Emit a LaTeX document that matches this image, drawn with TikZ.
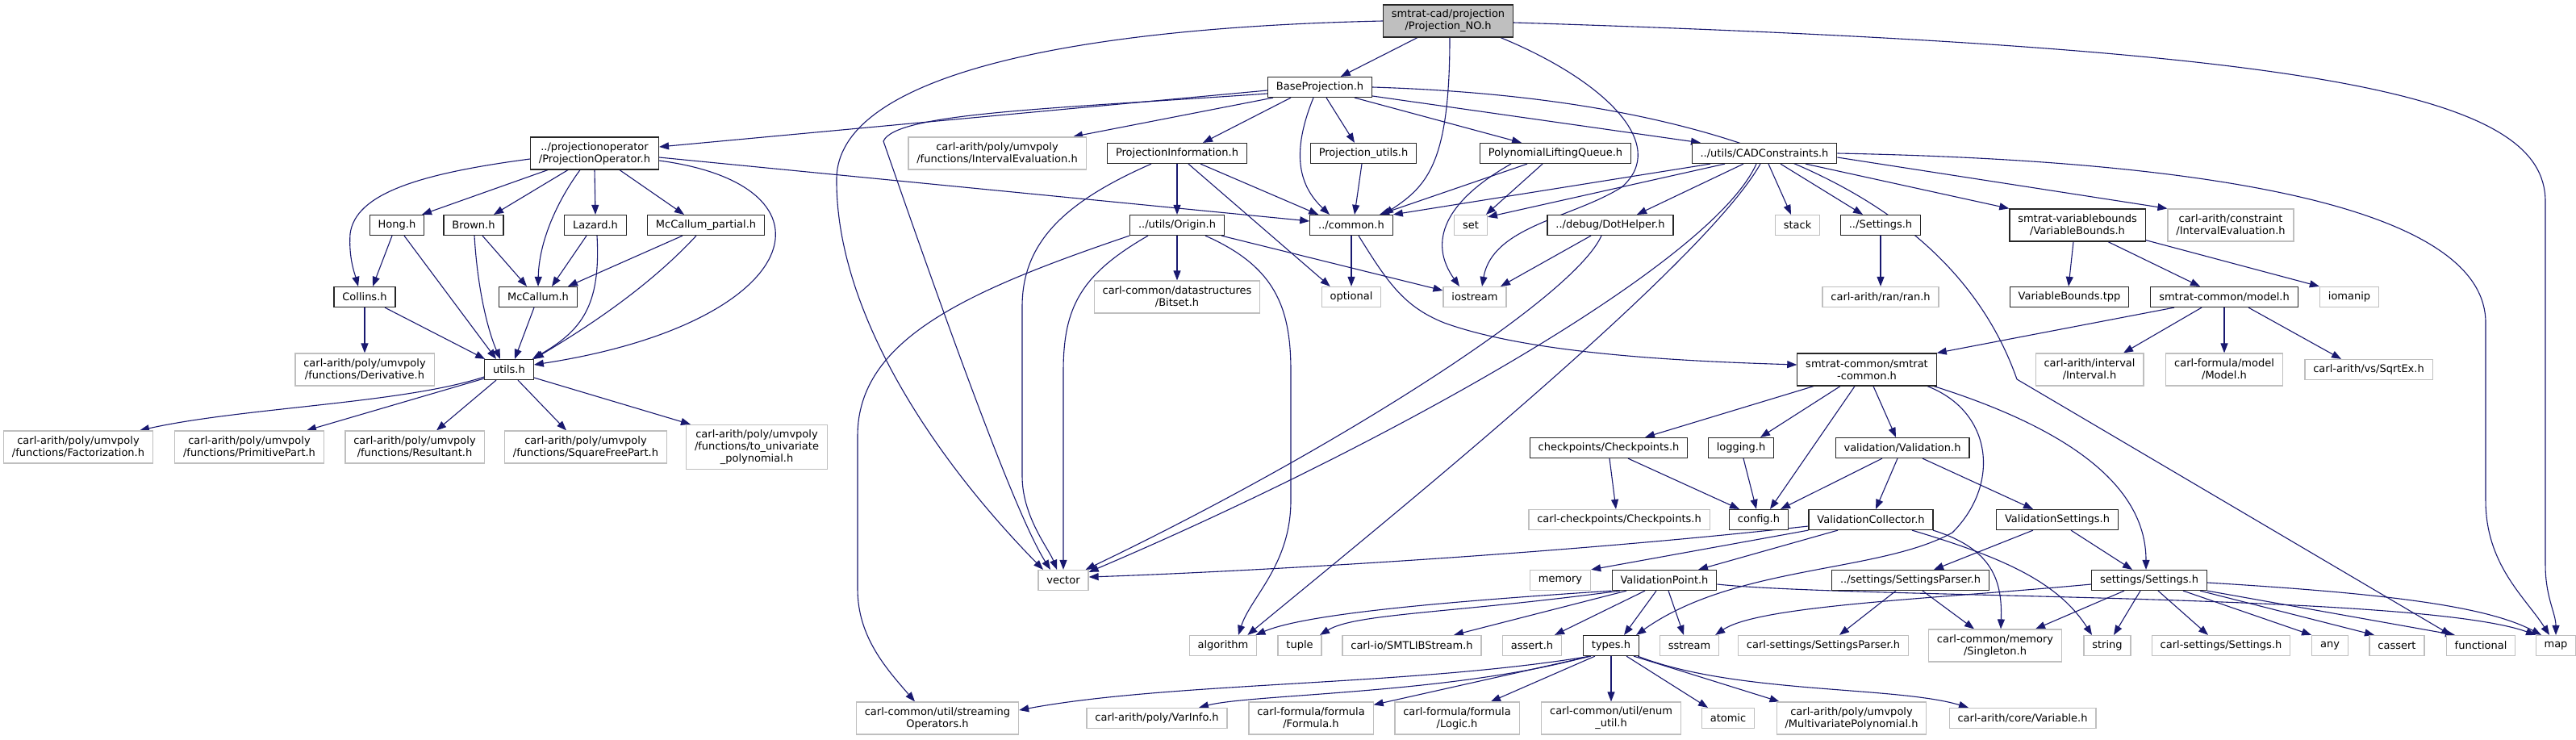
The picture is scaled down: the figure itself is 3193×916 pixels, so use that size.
\documentclass[tikz,border=0pt]{standalone}
\usepackage{fontspec}
\setmainfont{DejaVu Sans}
\usetikzlibrary{arrows.meta,backgrounds}
\definecolor{edgeblue}{HTML}{191970}
\definecolor{grey75}{HTML}{BFBFBF}
\begin{document}
\begin{tikzpicture}[x=1pt,y=-1pt,font=\fontsize{13}{15}\selectfont,
 doxbox/.style={draw,fill=white,line width=1.2pt,inner xsep=10.4pt,inner ysep=5pt,minimum height=25pt,align=center},
 doc/.style={doxbox,draw=black!85},
 ext/.style={doxbox,draw=grey75},
 rootbox/.style={doc,fill=grey75},
 twolines/.style={minimum height=40pt},
 threelines/.style={minimum height=55pt},
 inc/.style={draw=edgeblue,line width=1.1pt,-{Triangle[length=12pt,width=9pt]}}]
\useasboundingbox (0,0) rectangle (3193,916);
\node[rootbox,twolines] (root) at (1795,26) {smtrat-cad/projection\\/Projection\_NO.h};
\node[doc] (baseproj) at (1636,108) {BaseProjection.h};
\node[doc,twolines] (projop) at (737,190) {../projectionoperator\\/ProjectionOperator.h};
\node[ext,twolines] (umveval) at (1236,190) {carl-arith/poly/umvpoly\\/functions/IntervalEvaluation.h};
\node[doc] (projinfo) at (1459,190) {ProjectionInformation.h};
\node[doc] (projutils) at (1690,190) {Projection\_utils.h};
\node[doc] (liftqueue) at (1928,190) {PolynomialLiftingQueue.h};
\node[doc] (cadconstr) at (2187,190) {../utils/CADConstraints.h};
\node[doc] (hong) at (492,279) {Hong.h};
\node[doc] (brown) at (587,279) {Brown.h};
\node[doc] (lazard) at (738,279) {Lazard.h};
\node[doc] (mcpartial) at (875,279) {McCallum\_partial.h};
\node[doc] (origin) at (1459,279) {../utils/Origin.h};
\node[doc] (common) at (1675,279) {../common.h};
\node[ext] (set) at (1823,279) {set};
\node[doc] (dothelper) at (1996,279) {../debug/DotHelper.h};
\node[ext] (stack) at (2228,279) {stack};
\node[doc] (settingsh) at (2331,279) {../Settings.h};
\node[doc,twolines] (varbounds) at (2575,279) {smtrat-variablebounds\\/VariableBounds.h};
\node[ext,twolines] (consteval) at (2765,279) {carl-arith/constraint\\/IntervalEvaluation.h};
\node[doc] (collins) at (452,368) {Collins.h};
\node[doc] (mccallum) at (667,368) {McCallum.h};
\node[ext,twolines] (bitset) at (1459,368) {carl-common/datastructures\\/Bitset.h};
\node[ext] (optional) at (1675,368) {optional};
\node[ext] (iostream) at (1828,368) {iostream};
\node[ext] (ranh) at (2331,368) {carl-arith/ran/ran.h};
\node[doc] (vbtpp) at (2565,368) {VariableBounds.tpp};
\node[doc] (model) at (2757,368) {smtrat-common/model.h};
\node[ext] (iomanip) at (2912,368) {iomanip};
\node[ext,twolines] (derivative) at (452,458) {carl-arith/poly/umvpoly\\/functions/Derivative.h};
\node[doc] (utils) at (631,458) {utils.h};
\node[doc,twolines] (smtratcommon) at (2314,458) {smtrat-common/smtrat\\-common.h};
\node[ext,twolines] (interval) at (2590,458) {carl-arith/interval\\/Interval.h};
\node[ext,twolines] (modelh) at (2757,458) {carl-formula/model\\/Model.h};
\node[ext] (sqrtex) at (2936,458) {carl-arith/vs/SqrtEx.h};
\node[ext,twolines] (factor) at (97,554) {carl-arith/poly/umvpoly\\/functions/Factorization.h};
\node[ext,twolines] (primpart) at (309,554) {carl-arith/poly/umvpoly\\/functions/PrimitivePart.h};
\node[ext,twolines] (resultant) at (514,554) {carl-arith/poly/umvpoly\\/functions/Resultant.h};
\node[ext,twolines] (sqfree) at (726,554) {carl-arith/poly/umvpoly\\/functions/SquareFreePart.h};
\node[ext,threelines] (touni) at (938,554) {carl-arith/poly/umvpoly\\/functions/to\_univariate\\\_polynomial.h};
\node[doc] (checkpoints) at (1994,555) {checkpoints/Checkpoints.h};
\node[doc] (logging) at (2158,555) {logging.h};
\node[doc] (validation) at (2358,555) {validation/Validation.h};
\node[ext] (carlcheck) at (2007,644) {carl-checkpoints/Checkpoints.h};
\node[doc] (config) at (2180,644) {config.h};
\node[doc] (valcollect) at (2319,644) {ValidationCollector.h};
\node[doc] (valsettings) at (2550,644) {ValidationSettings.h};
\node[ext] (vector) at (1318,719) {vector};
\node[ext] (memory) at (1934,719) {memory};
\node[doc] (valpoint) at (2063,719) {ValidationPoint.h};
\node[doc] (setparser) at (2368,719) {../settings/SettingsParser.h};
\node[doc] (settings) at (2664,719) {settings/Settings.h};
\node[ext] (algorithm) at (1516,800) {algorithm};
\node[ext] (tuple) at (1611,800) {tuple};
\node[ext] (smtlib) at (1750,800) {carl-io/SMTLIBStream.h};
\node[ext] (assert) at (1899,800) {assert.h};
\node[doc] (types) at (1997,800) {types.h};
\node[ext] (sstream) at (2094,800) {sstream};
\node[ext] (carlparser) at (2260,800) {carl-settings/SettingsParser.h};
\node[ext,twolines] (singleton) at (2473,800) {carl-common/memory\\/Singleton.h};
\node[ext] (string) at (2612,800) {string};
\node[ext] (carlsettings) at (2753,800) {carl-settings/Settings.h};
\node[ext] (any) at (2888,800) {any};
\node[ext] (cassert) at (2971,800) {cassert};
\node[ext] (functional) at (3075,800) {functional};
\node[ext] (map) at (3168,800) {map};
\node[ext,twolines] (streaming) at (1162,890) {carl-common/util/streaming\\Operators.h};
\node[ext] (varinfo) at (1434,890) {carl-arith/poly/VarInfo.h};
\node[ext,twolines] (formula) at (1625,890) {carl-formula/formula\\/Formula.h};
\node[ext,twolines] (logic) at (1806,890) {carl-formula/formula\\/Logic.h};
\node[ext,twolines] (enumutil) at (1997,890) {carl-common/util/enum\\\_util.h};
\node[ext] (atomic) at (2142,890) {atomic};
\node[ext,twolines] (multipoly) at (2295,890) {carl-arith/poly/umvpoly\\/MultivariatePolynomial.h};
\node[ext] (variable) at (2507,890) {carl-arith/core/Variable.h};
\begin{pgfonlayer}{background}
\fill[white] (0,0) rectangle (3193,916);
\draw[inc] ([xshift=-38pt]root.south) -- (baseproj);
\draw[inc] ([xshift=2pt]root.south) .. controls (1797,200) and (1770,230) .. ([xshift=40pt]common.north);
\draw[inc] ([xshift=65pt]root.south) .. controls (1990,100) and (2070,180) .. (2010,232) .. controls (1950,270) and (1850,280) .. ([xshift=9pt]iostream.north);
\draw[inc] (root.west) .. controls (1300,35) and (1040,100) .. (1037,220) .. controls (1035,380) and (1150,560) .. ([xshift=-25pt]vector.north);
\draw[inc] ([yshift=-2pt]root.east) .. controls (2900,60) and (3155,120) .. (3155,250) -- (3155,700) .. controls (3155,740) and (3168,760) .. (map.north);
\draw[inc] ([yshift=-4pt]baseproj.west) -- ([yshift=8pt]projop.east);
\draw[inc] ([yshift=-8pt]baseproj.west) .. controls (1300,135) and (1110,140) .. (1095,175) .. controls (1180,420) and (1260,640) .. ([xshift=-16pt]vector.north);
\draw[inc] ([xshift=-58pt]baseproj.south) -- ([xshift=94pt]umveval.north);
\draw[inc] ([xshift=-36pt]baseproj.south) -- ([xshift=32pt]projinfo.north);
\draw[inc] ([xshift=-8pt]baseproj.south) .. controls (1600,190) and (1610,230) .. ([xshift=-27pt]common.north);
\draw[inc] ([xshift=8pt]baseproj.south) -- ([xshift=-11pt]projutils.north);
\draw[inc] ([xshift=43pt]baseproj.south) -- ([xshift=-42pt]liftqueue.north);
\draw[inc] ([yshift=-11pt]baseproj.east) -- ([xshift=-79pt]cadconstr.north);
\draw[inc] (baseproj.east) .. controls (2250,125) and (2440,300) .. (2500,470) -- ([xshift=-37pt]functional.north);
\draw[inc] ([yshift=-7pt]projop.west) .. controls (520,215) and (440,240) .. (434,290) .. controls (432,320) and (440,340) .. ([xshift=-8pt]collins.north);
\draw[inc] ([xshift=-58pt]projop.south) -- ([xshift=31pt]hong.north);
\draw[inc] ([xshift=-33pt]projop.south) -- ([xshift=25pt]brown.north);
\draw[inc] ([xshift=-18pt]projop.south) .. controls (690,250) and (668,300) .. (mccallum.north);
\draw[inc] (projop.south) -- (lazard.north);
\draw[inc] ([xshift=31pt]projop.south) -- ([xshift=-27pt]mcpartial.north);
\draw[inc] ([yshift=-9pt]projop.east) .. controls (1050,230) and (1000,400) .. ([yshift=6pt]utils.east);
\draw[inc] ([yshift=-5pt]projop.east) -- ([yshift=5pt]common.west);
\draw[inc] ([xshift=-6pt]hong.south) -- ([xshift=10pt]collins.north);
\draw[inc] ([xshift=9pt]hong.south) -- ([xshift=-16pt]utils.north);
\draw[inc] ([xshift=11pt]brown.south) -- ([xshift=-14pt]mccallum.north);
\draw[inc] ([xshift=1pt]brown.south) .. controls (592,360) and (605,410) .. ([xshift=-11pt]utils.north);
\draw[inc] ([xshift=-11pt]lazard.south) -- ([xshift=17pt]mccallum.north);
\draw[inc] ([xshift=2pt]lazard.south) .. controls (745,380) and (720,410) .. ([xshift=-2pt]utils.north east);
\draw[inc] ([xshift=-29pt]mcpartial.south) -- ([xshift=37pt]mccallum.north);
\draw[inc] ([xshift=-12pt]mcpartial.south) .. controls (800,360) and (720,410) .. (utils.north east);
\draw[inc] (collins) -- (derivative);
\draw[inc] ([xshift=25pt]collins.south) -- ([xshift=1pt]utils.north west);
\draw[inc] ([xshift=-5pt]mccallum.south) -- ([xshift=7pt]utils.north);
\draw[inc] ([yshift=-9pt]utils.west) .. controls (500,500) and (300,505) .. ([xshift=76pt]factor.north);
\draw[inc] ([yshift=-11pt]utils.west) -- ([xshift=71pt]primpart.north);
\draw[inc] ([xshift=-16pt]utils.south) -- ([xshift=27pt]resultant.north);
\draw[inc] ([xshift=11pt]utils.south) -- ([xshift=-24pt]sqfree.north);
\draw[inc] ([yshift=-10pt]utils.east) -- ([xshift=6pt]touni.north west);
\draw[inc] (projinfo) -- (origin);
\draw[inc] ([xshift=-32pt]projinfo.south) .. controls (1320,250) and (1267,300) .. (1267,380) -- (1267,590) .. controls (1267,640) and (1300,680) .. ([xshift=-8pt]vector.north);
\draw[inc] ([xshift=14pt]projinfo.south) -- ([xshift=11pt]optional.north west);
\draw[inc] ([xshift=29pt]projinfo.south) -- ([xshift=11pt]common.north west);
\draw[inc] (origin) -- (bitset);
\draw[inc] (origin.south west) .. controls (1200,360) and (1063,420) .. (1063,540) -- (1063,730) .. controls (1063,790) and (1100,830) .. ([xshift=-28pt]streaming.north);
\draw[inc] ([xshift=-36pt]origin.south) .. controls (1340,340) and (1318,380) .. (1318,460) -- (vector.north);
\draw[inc] ([xshift=35pt]origin.south) .. controls (1580,330) and (1600,380) .. (1600,460) -- (1600,620) .. controls (1600,700) and (1550,740) .. ([xshift=19pt]algorithm.north);
\draw[inc] ([xshift=55pt]origin.south) -- ([yshift=8pt]iostream.west);
\draw[inc] (common) -- (optional);
\draw[inc] ([xshift=9pt]common.south) .. controls (1720,350) and (1740,380) .. (1790,400) .. controls (1900,440) and (2100,448) .. ([yshift=6pt]smtratcommon.west);
\draw[inc] ([xshift=-35pt]liftqueue.south) -- ([xshift=35pt]common.north);
\draw[inc] ([xshift=-16pt]liftqueue.south) -- ([xshift=-2pt]set.north east);
\draw[inc] ([xshift=-55pt]liftqueue.south) .. controls (1790,250) and (1770,300) .. ([xshift=-19pt]iostream.north);
\draw[inc] ([xshift=-2pt]projutils.south) -- ([xshift=4pt]common.north);
\draw[inc] ([xshift=-67pt]cadconstr.south) -- (common.north east);
\draw[inc] ([xshift=-49pt]cadconstr.south) -- ([yshift=-3pt]set.north east);
\draw[inc] ([xshift=-26pt]cadconstr.south) -- ([xshift=33pt]dothelper.north);
\draw[inc] ([xshift=-10pt]cadconstr.south) .. controls (2120,330) and (1700,560) .. ([yshift=-3pt]vector.north east);
\draw[inc] ([xshift=-5pt]cadconstr.south) .. controls (2110,330) and (1700,660) .. ([xshift=-12pt]algorithm.north east);
\draw[inc] ([xshift=5pt]cadconstr.south) -- ([xshift=-8pt]stack.north);
\draw[inc] ([xshift=20pt]cadconstr.south) -- ([xshift=-22pt]settingsh.north);
\draw[inc] ([xshift=51pt]cadconstr.south) -- (varbounds.north west);
\draw[inc] ([yshift=-5pt]cadconstr.east) -- (consteval.north west);
\draw[inc] (cadconstr.east) .. controls (2800,200) and (3081,270) .. (3081,400) -- (3081,620) .. controls (3081,700) and (3130,740) .. ([xshift=-8pt]map.north);
\draw[inc] ([xshift=-24pt]dothelper.south) -- ([xshift=32pt]iostream.north);
\draw[inc] ([xshift=-11pt]dothelper.south) .. controls (1950,370) and (1650,560) .. ([xshift=-4pt]vector.north east);
\draw[inc] (settingsh) -- (ranh);
\draw[inc] ([xshift=-5pt]varbounds.south) -- ([xshift=-1pt]vbtpp.north);
\draw[inc] ([xshift=38pt]varbounds.south) -- ([xshift=-30pt]model.north);
\draw[inc] ([yshift=2pt]varbounds.south east) -- (iomanip.north west);
\draw[inc] ([xshift=-62pt]model.south) -- (smtratcommon.north east);
\draw[inc] ([xshift=-28pt]model.south) -- ([xshift=42pt]interval.north);
\draw[inc] (model) -- (modelh);
\draw[inc] ([xshift=30pt]model.south) -- ([xshift=-34pt]sqrtex.north);
\draw[inc] ([xshift=-66pt]smtratcommon.south) -- ([xshift=45pt]checkpoints.north);
\draw[inc] ([xshift=-33pt]smtratcommon.south) -- ([xshift=24pt]logging.north);
\draw[inc] ([xshift=-15pt]smtratcommon.south) -- ([xshift=14pt]config.north);
\draw[inc] ([xshift=8pt]smtratcommon.south) -- ([xshift=-8pt]validation.north);
\draw[inc] ([xshift=83pt]smtratcommon.south) .. controls (2560,530) and (2660,600) .. ([xshift=-4pt]settings.north);
\draw[inc] ([xshift=75pt]smtratcommon.south) .. controls (2470,510) and (2480,600) .. (2420,660) .. controls (2330,710) and (2150,700) .. ([xshift=-4pt]types.north east);
\draw[inc] ([xshift=1pt]checkpoints.south) -- ([xshift=-4pt]carlcheck.north);
\draw[inc] ([xshift=24pt]checkpoints.south) -- ([xshift=13pt]config.north west);
\draw[inc] ([xshift=3pt]logging.south) -- ([xshift=-3pt]config.north);
\draw[inc] ([xshift=-25pt]validation.south) -- ([xshift=27pt]config.north);
\draw[inc] ([xshift=-6pt]validation.south) -- ([xshift=6pt]valcollect.north);
\draw[inc] ([xshift=25pt]validation.south) -- ([xshift=-30pt]valsettings.north);
\draw[inc] ([yshift=-8pt]valcollect.west) .. controls (1900,690) and (1500,710) .. ([yshift=4pt]vector.east);
\draw[inc] (valcollect.south west) -- (memory.north east);
\draw[inc] ([xshift=-41pt]valcollect.south) -- ([xshift=42pt]valpoint.north);
\draw[inc] ([xshift=77pt]valcollect.south) .. controls (2470,680) and (2482,720) .. ([xshift=7pt]singleton.north);
\draw[inc] ([xshift=51pt]valcollect.south) .. controls (2480,690) and (2550,720) .. ([xshift=-19pt]string.north);
\draw[inc] ([xshift=-30pt]valsettings.south) -- ([xshift=29pt]setparser.north);
\draw[inc] ([xshift=17pt]valsettings.south) -- ([xshift=-21pt]settings.north);
\draw[inc] ([xshift=-18pt]setparser.south) -- ([xshift=20pt]carlparser.north);
\draw[inc] ([xshift=15pt]setparser.south) -- ([xshift=-26pt]singleton.north);
\draw[inc] ([yshift=-5pt]settings.west) .. controls (2400,742) and (2180,750) .. ([xshift=-5pt]sstream.north east);
\draw[inc] ([xshift=-31pt]settings.south) -- ([xshift=50pt]singleton.north);
\draw[inc] ([xshift=-11pt]settings.south) -- ([xshift=8pt]string.north);
\draw[inc] ([xshift=11pt]settings.south) -- ([xshift=-16pt]carlsettings.north);
\draw[inc] ([xshift=42pt]settings.south) -- (any.north west);
\draw[inc] ([xshift=63pt]settings.south) -- ([xshift=-28pt]cassert.north);
\draw[inc] (settings.south east) -- ([xshift=-32pt]functional.north);
\draw[inc] ([yshift=-3pt]settings.east) .. controls (2950,735) and (3080,750) .. ([xshift=-18pt]map.north);
\draw[inc] (valpoint.south west) .. controls (1800,745) and (1620,760) .. ([xshift=-2pt]algorithm.north east);
\draw[inc] ([xshift=-55pt]valpoint.south) .. controls (1800,760) and (1680,760) .. ([xshift=25pt]tuple.north);
\draw[inc] ([xshift=-47pt]valpoint.south) -- ([xshift=52pt]smtlib.north);
\draw[inc] ([xshift=-24pt]valpoint.south) -- ([xshift=28pt]assert.north);
\draw[inc] ([xshift=-10pt]valpoint.south) -- ([xshift=16pt]types.north);
\draw[inc] ([xshift=5pt]valpoint.south) -- ([xshift=-7pt]sstream.north);
\draw[inc] ([yshift=-5pt]valpoint.east) .. controls (2300,742) and (3000,735) .. ([xshift=-25pt]map.north);
\draw[inc] ([xshift=-26pt]types.south) .. controls (1750,850) and (1450,845) .. ([yshift=10pt]streaming.east);
\draw[inc] ([xshift=-27pt]types.south) .. controls (1800,860) and (1550,860) .. ([xshift=52pt]varinfo.north);
\draw[inc] ([xshift=-25pt]types.south) -- ([yshift=-4pt]formula.north east);
\draw[inc] ([xshift=-20pt]types.south) -- ([xshift=42pt]logic.north);
\draw[inc] (types) -- (enumutil);
\draw[inc] ([xshift=19pt]types.south) -- ([xshift=-25pt]atomic.north);
\draw[inc] ([xshift=28pt]types.south) -- ([xshift=4pt]multipoly.north west);
\draw[inc] ([xshift=33pt]types.south) .. controls (2150,860) and (2350,850) .. ([xshift=-67pt]variable.north);
\end{pgfonlayer}
\end{tikzpicture}
\end{document}
